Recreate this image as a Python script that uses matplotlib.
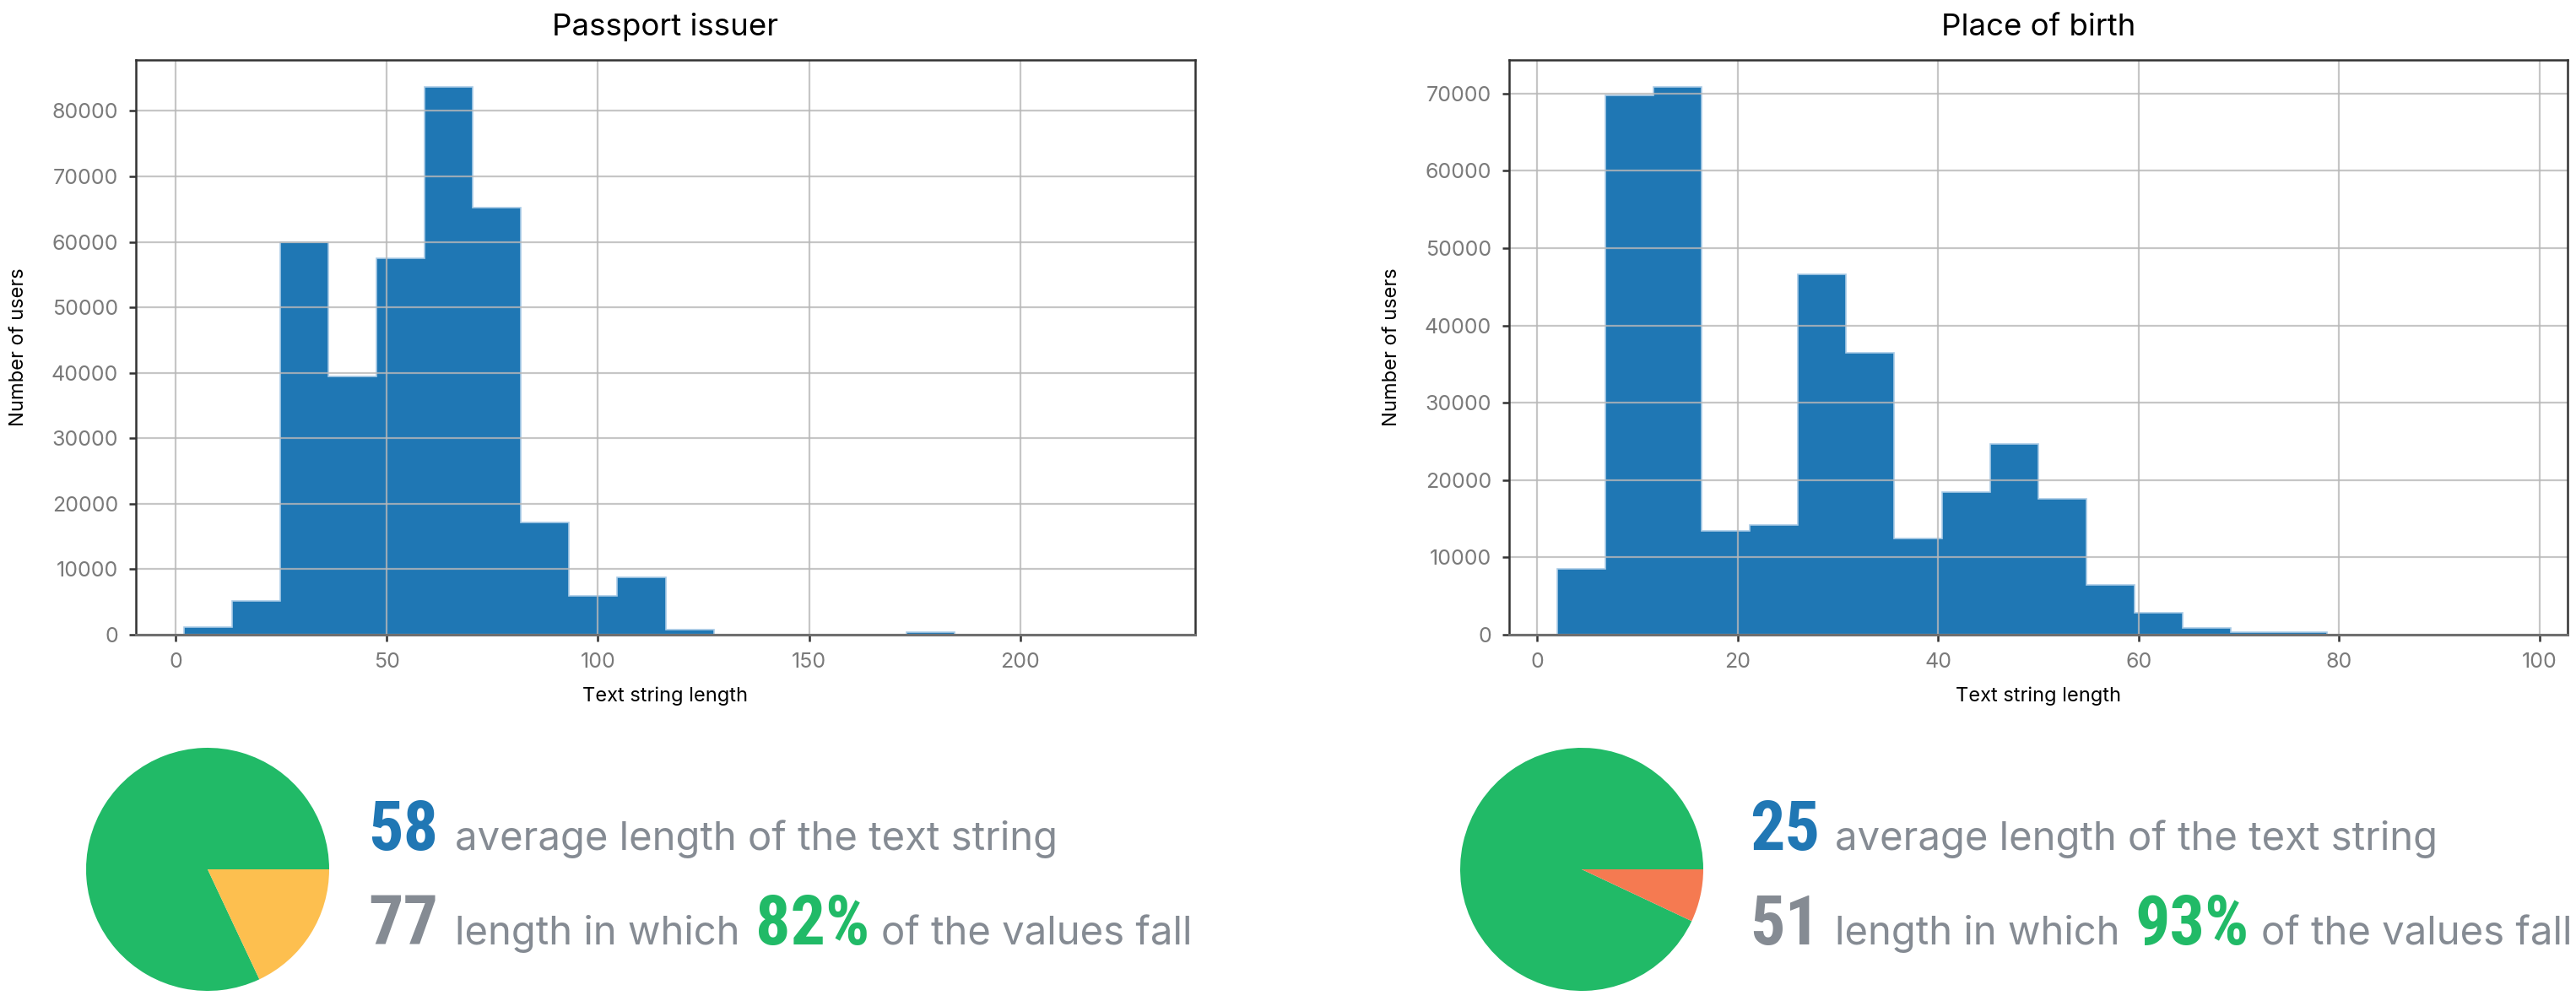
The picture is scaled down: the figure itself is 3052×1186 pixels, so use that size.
import matplotlib.pyplot as plt
import numpy as np

# histogram data (20 bins each)
issuer_range = (2, 230)
issuer_counts = [1100, 5200, 59900, 39500, 57500, 83600, 65200, 17200, 5900, 8800,
                 750, 60, 30, 20, 10, 350, 10, 5, 5, 10]

birth_range = (2, 98)
birth_counts = [8500, 69800, 70800, 13400, 14200, 46600, 36500, 12400, 18400, 24700,
                17600, 6400, 2800, 900, 300, 300, 40, 20, 10, 10]

titles = ["Passport issuer", "Place of birth"]
avg_length = ["58", "25"]
cover_length = ["77", "51"]
cover_share = [82, 93]
rest_colors = ["#FDBF4F", "#F57A51"]

BLUE = "#2077B4"
GREEN = "#21BA67"
GRAY = "#858B93"

W, H = 3052, 1186
fig = plt.figure(figsize=(W / 200, H / 200), dpi=200)


def px(x0, y0, x1, y1):
    # pixel box (top-left origin) -> figure fraction rect
    return [x0 / W, 1 - y1 / H, (x1 - x0) / W, (y1 - y0) / H]


def draw_hist(rect, counts, rng, title):
    ax = fig.add_axes(rect)
    edges = np.linspace(rng[0], rng[1], len(counts) + 1)
    ax.hist(edges[:-1], bins=edges, weights=counts, histtype="stepfilled",
            facecolor="#1f77b4", edgecolor="#a9cbe6", linewidth=0.6)
    ax.grid(True, color="#b8b8b8", linewidth=0.8, alpha=0.8)
    for side in ["left", "top", "right"]:
        ax.spines[side].set_color("#333333")
        ax.spines[side].set_linewidth(0.9)
    ax.spines["bottom"].set_color("#6f6f6f")
    ax.spines["bottom"].set_linewidth(1.1)
    ax.tick_params(length=3, width=0.9, color="#333333", pad=4.5,
                   labelsize=9, labelcolor="#7a7a7a")
    ax.set_title(title, fontsize=13.2, pad=10.4, color="black")
    ax.set_xlabel("Text string length", fontsize=8.5, labelpad=6.5)
    ax.set_ylabel("Number of users", fontsize=8.5, labelpad=10)
    return ax


def draw_stats(pie_cx, num_x, txt_x, share, color, avg, cover):
    pax = fig.add_axes(px(pie_cx - 144, 886, pie_cx + 144, 1174))
    pax.pie([share, 100 - share], colors=[GREEN, color])
    pax.set_xlim(-1, 1)
    pax.set_ylim(-1, 1)

    y1 = 1 - 1007 / H
    y2 = 1 - 1119 / H
    big = dict(family=["Roboto Condensed", "Open Sans Condensed",
                       "Liberation Sans Narrow", "DejaVu Sans"],
               stretch="condensed", fontweight="bold", fontsize=29.5, va="baseline")
    small = dict(fontsize=17, color=GRAY, va="baseline")

    fig.text(num_x / W, y1, avg, ha="right", color=BLUE, **big)
    fig.text(txt_x / W, y1, "average length of the text string", ha="left", **small)

    fig.text(num_x / W, y2, cover, ha="right", color=GRAY, **big)
    a = fig.text(txt_x / W, y2, "length in which", ha="left", **small)
    b = fig.add_artist(plt.Annotation(
        f"{share}%", xy=(1, y2), xycoords=(a, "figure fraction"),
        xytext=(6.5, 0), textcoords="offset points", ha="left", color=GREEN, **big))
    fig.add_artist(plt.Annotation(
        "of the values fall", xy=(1, y2), xycoords=(b, "figure fraction"),
        xytext=(5, 0), textcoords="offset points", ha="left", **small))


plt.rcParams["font.family"] = ["Inter", "DejaVu Sans"]

draw_hist(px(161, 71, 1416, 752), issuer_counts, issuer_range, titles[0])
draw_hist(px(1788, 71, 3042, 752), birth_counts, birth_range, titles[1])

draw_stats(246, 519, 539, cover_share[0], rest_colors[0], avg_length[0], cover_length[0])
draw_stats(1874, 2156, 2174, cover_share[1], rest_colors[1], avg_length[1], cover_length[1])

fig.savefig("out.png", dpi=200, facecolor="white")
